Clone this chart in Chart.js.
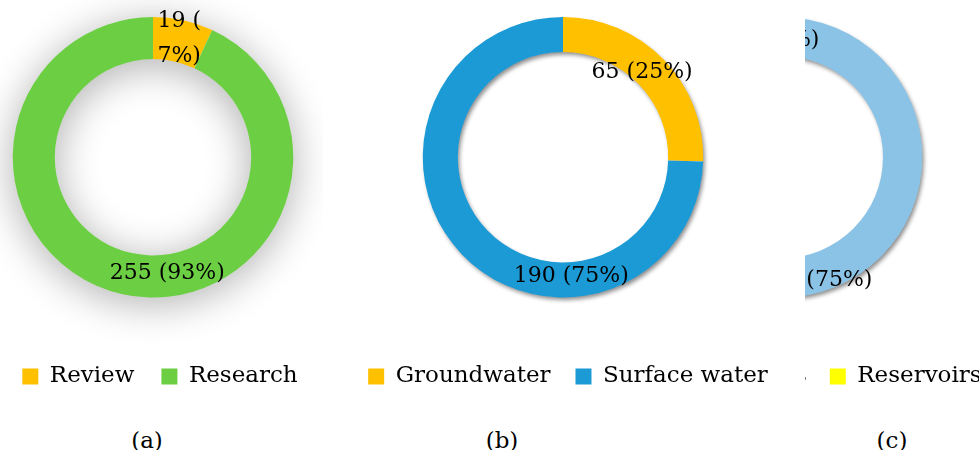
<!DOCTYPE html>
<html>
<head>
<meta charset="utf-8">
<script src="https://cdn.jsdelivr.net/npm/chart.js@4.4.0/dist/chart.umd.min.js"></script>
<style>
  html, body { margin: 0; padding: 0; background: #fff; }
  body { width: 979px; height: 450px; position: relative; overflow: hidden; font-family: 'DejaVu Serif', serif; }
  canvas { position: absolute; top: 0; }
  #clipC { position: absolute; left: 805px; top: 0; width: 174px; height: 450px; overflow: hidden; }
  .cap { position: absolute; top: 426px; width: 60px; margin-left: -30px; text-align: center; font-size: 23px; line-height: 28px; color: #000; }
</style>
</head>
<body>
<canvas id="chartA" width="340" height="398" style="left:-17px"></canvas>
<canvas id="chartB" width="460" height="398" style="left:333px"></canvas>
<div id="clipC"><canvas id="chartC" width="450" height="398" style="left:-248px"></canvas></div>
<div class="cap" style="left:147px">(a)</div>
<div class="cap" style="left:502px">(b)</div>
<div class="cap" style="left:892px">(c)</div>
<script>
// (a) publication type
const catA = ['Review', 'Research'];
const valA = [19, 255];
// (b) water source
const catB = ['Groundwater', 'Surface water'];
const valB = [65, 190];
// (c) surface water type (only the right edge is visible)
const catC = ['Rivers', 'Lakes', 'Reservoirs'];
const valC = [190, 44, 19];

const colA = ['#FFC000', '#6CCF43'];
const colB = ['#FFC000', '#1C9AD6'];
const colC = ['#8BC3E7', '#2E75B6', '#FFFF00'];

const FONT = 'DejaVu Serif';

// soft shadow under the whole ring, drawn once so slices don't shade each other
const ringShadow = {
  id: 'ringShadow',
  beforeDatasetsDraw(chart, args, opts) {
    const arc = chart.getDatasetMeta(0).data[0];
    if (!arc) return;
    const { x, y, innerRadius, outerRadius } = arc.getProps(['x', 'y', 'innerRadius', 'outerRadius'], true);
    const ctx = chart.ctx;
    ctx.save();
    ctx.shadowColor = opts.color;
    ctx.shadowBlur = opts.blur;
    ctx.shadowOffsetX = opts.dx;
    ctx.shadowOffsetY = opts.dy;
    ctx.fillStyle = '#fff';
    ctx.beginPath();
    ctx.arc(x, y, outerRadius - 0.5, 0, Math.PI * 2);
    ctx.arc(x, y, innerRadius + 0.5, 0, Math.PI * 2, true);
    ctx.fill();
    ctx.restore();
  }
};

// nudge the legend row sideways (it is not centred under the ring in the original)
const legendShift = {
  id: 'legendShift',
  afterLayout(chart, args, opts) {
    if (!chart.legend || !opts.dx) return;
    chart.legend.left += opts.dx;
    chart.legend.right += opts.dx;
  }
};

// "value (pct%)" labels, placed at [angle from top, radius] per slice
const sliceLabels = {
  id: 'sliceLabels',
  afterDatasetsDraw(chart, args, opts) {
    const meta = chart.getDatasetMeta(0);
    const data = chart.data.datasets[0].data;
    const total = data.reduce((a, b) => a + b, 0);
    const ctx = chart.ctx;
    ctx.save();
    ctx.font = '22px "' + FONT + '"';
    ctx.fillStyle = '#000';
    ctx.textAlign = 'center';
    ctx.textBaseline = 'middle';
    meta.data.forEach((arc, i) => {
      const p = opts.pos[i];
      if (!p) return;
      const a = p[0] * Math.PI / 180;
      const cx = arc.x + p[1] * Math.sin(a);
      const cy = arc.y - p[1] * Math.cos(a);
      const pct = Math.round(data[i] / total * 100);
      const lines = (opts.wrap || []).includes(i)
        ? [data[i] + ' (', pct + '%)']
        : [data[i] + ' (' + pct + '%)'];
      lines.forEach((t, k) => ctx.fillText(t, cx, cy + (k - (lines.length - 1) / 2) * 35));
    });
    ctx.restore();
  }
};

function ring(id, cats, vals, cols, cutout, gap, shift, shadow, labels) {
  return new Chart(document.getElementById(id), {
    type: 'doughnut',
    data: { labels: cats, datasets: [{ data: vals, backgroundColor: cols, borderWidth: 0 }] },
    options: {
      responsive: false,
      animation: false,
      cutout: cutout,
      layout: { padding: { top: 17 } },
      plugins: {
        tooltip: { enabled: false },
        legend: {
          position: 'bottom',
          labels: { font: { family: FONT, size: 23 }, color: '#000', boxWidth: 16, boxHeight: 16, padding: gap },
          title: { display: true, text: '', padding: { top: 57.5 - gap, bottom: 0 }, font: { size: 10, lineHeight: 1 } }
        },
        legendShift: { dx: shift },
        ringShadow: shadow,
        sliceLabels: labels
      }
    },
    plugins: [ringShadow, sliceLabels, legendShift]
  });
}

ring('chartA', catA, valA, colA, '70%', 27, 7,
  { color: 'rgba(0,0,0,0.33)', blur: 40, dx: 0, dy: 6 },
  { pos: [[12.5, 121], [173, 117]], wrap: [0] });
ring('chartB', catB, valB, colB, '75%', 25, 5,
  { color: 'rgba(0,0,0,0.45)', blur: 4, dx: 2, dy: 3 },
  { pos: [[43, 116], [176, 119]] });
ring('chartC', catC, valC, colC, '72%', 23, 2,
  { color: 'rgba(0,0,0,0.45)', blur: 4, dx: 2, dy: 3 },
  { pos: [[165, 127], [300, 120], [357, 117]] });
</script>
</body>
</html>
